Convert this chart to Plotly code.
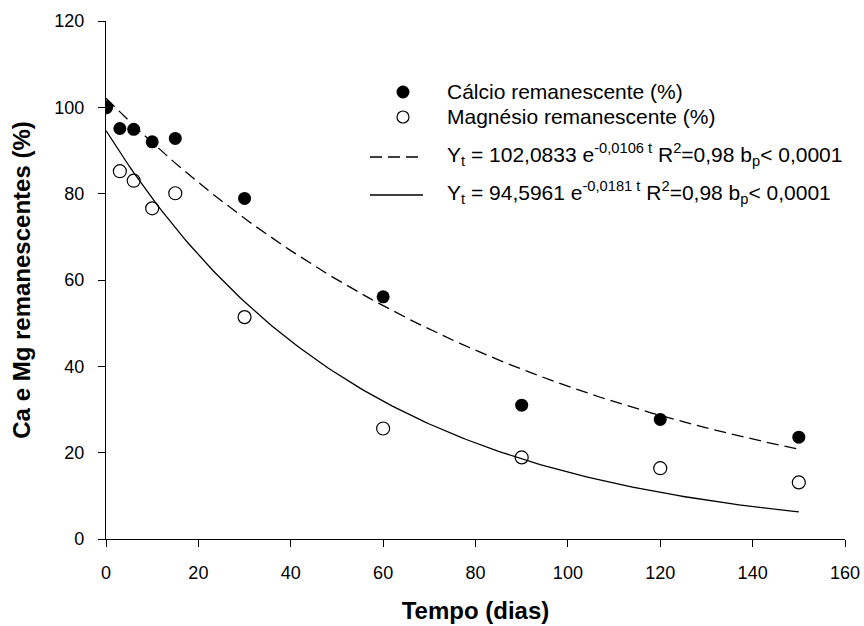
import numpy as np
import plotly.graph_objects as go

# Observed data
tempo = [0, 3, 6, 10, 15, 30, 60, 90, 120, 150]
calcio = [100, 95.1, 94.9, 92.0, 92.8, 78.9, 56.1, 31.0, 27.7, 23.6]
magnesio = [100, 85.2, 83.0, 76.6, 80.1, 51.4, 25.6, 18.9, 16.4, 13.1]

# Fitted model parameters (as printed on the chart): Y = a * exp(b t)
ca_a, ca_b = 102.0833, -0.0106
mg_a, mg_b = 94.5961, -0.0181
t_fit = np.linspace(0, 150, 151)

x_ticks = [0, 20, 40, 60, 80, 100, 120, 140, 160]
y_ticks = [0, 20, 40, 60, 80, 100, 120]

legend_labels = [
    "Cálcio remanescente (%)",
    "Magnésio remanescente (%)",
    "Y<sub>t</sub> = 102,0833 e<sup>-0,0106 t</sup> R<sup>2</sup>=0,98 b<sub>p</sub>&lt; 0,0001",
    "Y<sub>t</sub> = 94,5961 e<sup>-0,0181 t</sup> R<sup>2</sup>=0,98 b<sub>p</sub>&lt; 0,0001",
]

FONT = "Liberation Sans, Arial, sans-serif"
W, H = 864, 626
ML, MR, MT, MB = 106, 19, 21, 87
PW, PH = W - ML - MR, H - MT - MB


def px(xp):
    return (xp - ML) / PW


def py(yp):
    return (H - MB - yp) / PH


DASH = "12px,6px"

fig = go.Figure()
fig.add_trace(go.Scatter(
    x=tempo, y=calcio, mode="markers", name=legend_labels[0],
    marker=dict(symbol="circle", size=13, color="black", line=dict(width=0)),
))
fig.add_trace(go.Scatter(
    x=tempo, y=magnesio, mode="markers", name=legend_labels[1],
    marker=dict(symbol="circle-open", size=13, color="black", line=dict(width=1.2, color="black")),
))
fig.add_trace(go.Scatter(
    x=t_fit, y=ca_a * np.exp(ca_b * t_fit), mode="lines", name=legend_labels[2],
    line=dict(color="black", width=1.3, dash=DASH),
))
fig.add_trace(go.Scatter(
    x=t_fit, y=mg_a * np.exp(mg_b * t_fit), mode="lines", name=legend_labels[3],
    line=dict(color="black", width=1.3),
))

axis_common = dict(
    showline=True, linecolor="black", linewidth=1.2,
    ticks="outside", ticklen=7, tickwidth=1.2, tickcolor="black",
    showgrid=False, zeroline=False, mirror=False, automargin=False,
    tickfont=dict(family=FONT, size=18, color="black"),
    ticklabelstandoff=10,
)

# Manual legend (rows: text centre y in pixels)
row_y = [92, 117, 154, 192]
text_x = 445
sym_x = 403
annotations = []
shapes = []
for lbl, ry in zip(legend_labels, row_y):
    annotations.append(dict(
        x=px(text_x), y=py(ry), xref="paper", yref="paper",
        xanchor="left", yanchor="middle", showarrow=False, text=lbl,
        font=dict(family=FONT, size=21, color="black"),
    ))
# markers in legend
shapes.append(dict(type="circle", xref="paper", yref="paper",
                   xsizemode="pixel", ysizemode="pixel",
                   xanchor=px(sym_x), yanchor=py(row_y[0]),
                   x0=-6.5, x1=6.5, y0=-6.5, y1=6.5,
                   fillcolor="black", line=dict(width=0)))
shapes.append(dict(type="circle", xref="paper", yref="paper",
                   xsizemode="pixel", ysizemode="pixel",
                   xanchor=px(sym_x), yanchor=py(row_y[1]),
                   x0=-6, x1=6, y0=-6, y1=6,
                   fillcolor="white", line=dict(width=1.2, color="black")))
shapes.append(dict(type="line", xref="paper", yref="paper",
                   x0=px(370), x1=px(422), y0=py(157), y1=py(157),
                   line=dict(color="black", width=1.3, dash=DASH)))
shapes.append(dict(type="line", xref="paper", yref="paper",
                   x0=px(370), x1=px(423), y0=py(195), y1=py(195),
                   line=dict(color="black", width=1.3)))

fig.update_layout(
    width=W, height=H,
    margin=dict(l=ML, r=MR, t=MT, b=MB),
    paper_bgcolor="white", plot_bgcolor="white",
    font=dict(family=FONT, size=18, color="black"),
    xaxis=dict(range=[0, 160], tickvals=x_ticks, **axis_common,
               title=dict(text="<b>Tempo (dias)</b>", font=dict(family=FONT, size=24), standoff=20)),
    yaxis=dict(range=[0, 120], tickvals=y_ticks, **axis_common,
               title=dict(text="<b>Ca e Mg remanescentes (%)</b>", font=dict(family=FONT, size=24), standoff=16)),
    showlegend=False,
    annotations=annotations,
    shapes=shapes,
)

fig.write_html("out.html")
